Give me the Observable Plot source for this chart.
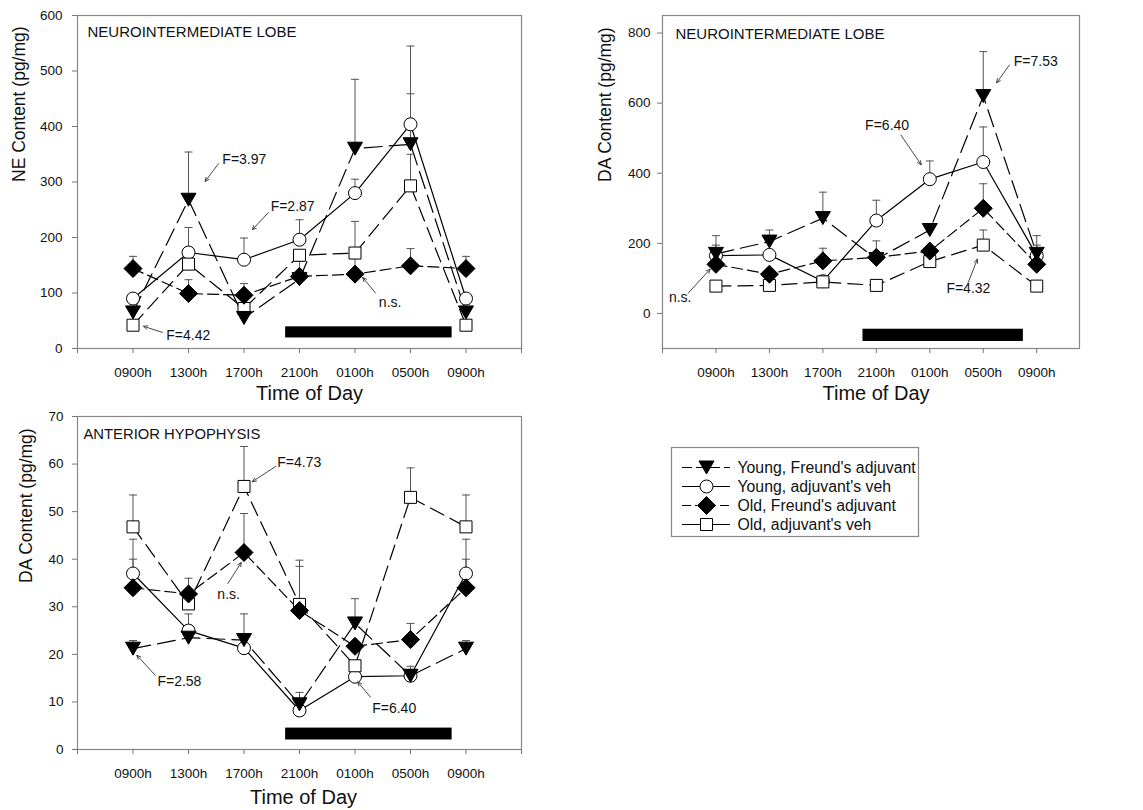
<!DOCTYPE html>
<html><head><meta charset="utf-8">
<script src="https://cdn.jsdelivr.net/npm/d3@7"></script>
<script src="https://cdn.jsdelivr.net/npm/@observablehq/plot@0.6"></script>
<style>
body{margin:0;background:#fff;font-family:"Liberation Sans",Arial,sans-serif;}
#fig{position:relative;width:1143px;height:810px;overflow:hidden;}
</style></head><body><div id="fig"></div>
<script>
// ---------- data ----------
const times = ["0900h","1300h","1700h","2100h","0100h","0500h","0900h"];
const series = ["Young, Freund's adjuvant","Young, adjuvant's veh","Old, Freund's adjuvant","Old, adjuvant's veh"];
const darkPhase = [2.75, 5.75]; // 2000h -> 0800h on the time index axis

// Panel A: NE content, neurointermediate lobe (pg/mg)
const neYoungFreund = [65, 268, 55, 125, 360, 368, 65];
const neYoungFreundSE = [15, 86, null, null, 125, 91, 15];
const neYoungVeh = [90, 173, 160, 196, 280, 404, 90];
const neYoungVehSE = [null, 45, 39, 36, 25, 141, null];
const neOldFreund = [144, 99, 96, 130, 134, 149, 144];
const neOldFreundSE = [22, 25, 21, 27, 28, 31, 22];
const neOldVeh = [42, 152, 72, 168, 172, 293, 42];
const neOldVehSE = [null, null, null, null, 57, 57, null];

// Panel B: DA content, neurointermediate lobe (pg/mg)
const daNilYoungFreund = [170, 205, 272, 155, 238, 620, 170];
const daNilYoungFreundSE = [52, 33, 74, null, 17, 127, 52];
const daNilYoungVeh = [165, 167, 92, 265, 383, 432, 165];
const daNilYoungVehSE = [30, null, null, 58, 52, 100, 30];
const daNilOldFreund = [140, 112, 150, 160, 178, 300, 140];
const daNilOldFreundSE = [null, null, 36, 47, null, 70, null];
const daNilOldVeh = [78, 80, 90, 80, 148, 195, 78];
const daNilOldVehSE = [null, null, null, null, null, 43, null];

// Panel C: DA content, anterior hypophysis (pg/mg)
const daAhYoungFreund = [21.2, 23.5, 23, 9.5, 26.5, 15.5, 21.2];
const daAhYoungFreundSE = [1.7, null, 5.5, 2.5, 5.2, null, 1.7];
const daAhYoungVeh = [37, 25, 21.3, 8.2, 15.3, 15.5, 37];
const daAhYoungVehSE = [7.2, 3.5, null, null, null, 2, 7.2];
const daAhOldFreund = [34, 32.7, 41.4, 29.2, 21.7, 23.1, 34];
const daAhOldFreundSE = [6, 3.3, 8.2, 9.3, null, 3.4, 6];
const daAhOldVeh = [46.8, 30.6, 55.3, 30.5, 17.6, 53, 46.8];
const daAhOldVehSE = [6.7, null, 8.4, 9.3, null, 6.2, 6.7];

// statistical annotations: text, text position, arrow start -> arrow end (data coords)
const notesA = [
  {t:"F=3.97", x:1.61, y:340, x1:1.54, y1:333, x2:1.30, y2:301},
  {t:"F=2.87", x:2.48, y:256, x1:2.44, y1:245, x2:2.15, y2:214},
  {t:"n.s.",   x:4.43, y:83,  x1:4.37, y1:100, x2:4.14, y2:128},
  {t:"F=4.42", x:0.60, y:24,  x1:0.53, y1:29,  x2:0.19, y2:40}
];
const notesB = [
  {t:"n.s.",   x:-0.88, y:45,  x1:-0.52, y1:58,  x2:-0.11, y2:126},
  {t:"F=6.40", x:2.79,  y:535, x1:3.46,  y1:509, x2:3.84,  y2:424},
  {t:"F=7.53", x:5.57,  y:719, x1:5.49,  y1:709, x2:5.25,  y2:658},
  {t:"F=4.32", x:4.31,  y:72,  x1:4.72,  y1:89,  x2:4.89,  y2:155}
];
const notesC = [
  {t:"F=4.73", x:2.60, y:60.3, x1:2.57, y1:59.5, x2:2.15, y2:56.3},
  {t:"n.s.",   x:1.52, y:32.5, x1:1.71, y1:34.9, x2:1.95, y2:39.3},
  {t:"F=2.58", x:0.44, y:14.2, x1:0.40, y1:15.6, x2:0.07, y2:19.8},
  {t:"F=6.40", x:4.31, y:8.6,  x1:4.28, y1:11.0, x2:4.05, y2:14.2}
];

// ---------- styles ----------
const FONT = '"Liberation Sans", Arial, sans-serif';
const triDown = {draw(c){c.moveTo(-7.5,-6.5);c.lineTo(7.5,-6.5);c.lineTo(0,6.5);c.closePath();}};
const diamond = {draw(c){c.moveTo(0,-9);c.lineTo(9,0);c.lineTo(0,9);c.lineTo(-9,0);c.closePath();}};
const square  = {draw(c){c.moveTo(-6,-6);c.lineTo(6,-6);c.lineTo(6,6);c.lineTo(-6,6);c.closePath();}};
const circle  = {draw(c){c.moveTo(6.5,0);c.arc(0,0,6.5,0,2*Math.PI);c.closePath();}};
const cap     = {draw(c){c.moveTo(-4,0);c.lineTo(4,0);}};
const styles = [
  {symbol: triDown, fill: "black", dash: "18,7", legendDash: "10,4"},
  {symbol: circle,  fill: "white", dash: null, legendDash: null},
  {symbol: diamond, fill: "black", dash: "11,5", legendDash: "9,4,2,4"},
  {symbol: square,  fill: "white", dash: "15,7", legendDash: null}
];
const drawOrder = [1, 3, 0, 2];

function rowsOf(vals, ses, k){
  return vals.map((v,i)=>({i, v, se: ses[i], top: ses[i]==null ? null : v + ses[i], k}));
}

function panel(cfg){
  const groups = cfg.data.map(([vals, ses], k) => rowsOf(vals, ses, k));
  const marks = [];
  marks.push(Plot.rect([darkPhase], {x1: d=>d[0], x2: d=>d[1], y1: cfg.bar[0], y2: cfg.bar[1], fill: "black"}));
  groups.forEach((g,k)=>{
    marks.push(Plot.line(g, {x:"i", y:"v", stroke:"black", strokeWidth:1.2, strokeDasharray: styles[k].dash || undefined}));
  });
  groups.forEach(g=>{
    const e = g.filter(d=>d.se!=null);
    marks.push(Plot.ruleX(e, {x:"i", y1:"v", y2:"top", stroke:"#555", strokeWidth:1}));
    marks.push(Plot.dot(e, {x:"i", y:"top", symbol: cap, r: 4, stroke:"#555", fill:"none", strokeWidth:1}));
  });
  drawOrder.forEach(k=>{
    marks.push(Plot.dot(groups[k], {x:"i", y:"v", symbol: styles[k].symbol, r: 6, fill: styles[k].fill, stroke:"black", strokeWidth:1}));
  });
  marks.push(Plot.frame({stroke:"#888", strokeWidth:1.2}));
  marks.push(Plot.axisX({ticks: cfg.xTicks, tickFormat: i => times[i] ?? "", tickSize: 5, tickPadding: 14,
    fontSize: 13.5, stroke: "#777", fill: "#111", label: null}));
  marks.push(Plot.axisY({ticks: cfg.yTicks, tickSize: 5, tickPadding: cfg.yPad, fontSize: 13.5, stroke:"#777", fill:"#111", label: null}));
  marks.push(Plot.text([cfg.label], {text: d=>d, frameAnchor:"top-left", dx: cfg.labelDx, dy: cfg.labelDy, textAnchor:"start", lineAnchor:"middle", fontSize: cfg.labelSize, fill:"#111"}));
  marks.push(Plot.text(["Time of Day"], {text: d=>d, frameAnchor:"bottom", dx: cfg.xTitleDx, dy: cfg.xTitleDy, lineAnchor:"middle", fontSize: 20, fill:"#111"}));
  marks.push(Plot.text([cfg.yTitle], {text: d=>d, frameAnchor:"left", dx: cfg.yTitleDx, rotate: -90, lineAnchor:"middle", fontSize: 17.5, fill:"#111"}));
  marks.push(Plot.arrow(cfg.notes, {x1:"x1", y1:"y1", x2:"x2", y2:"y2", stroke:"#333", strokeWidth:0.9, headLength:7, headAngle:50}));
  marks.push(Plot.text(cfg.notes, {x:"x", y:"y", text:"t", textAnchor:"start", lineAnchor:"middle", fontSize:14, fill:"#111"}));
  const svg = Plot.plot({
    width: cfg.width, height: cfg.height,
    marginTop: cfg.m[0], marginRight: cfg.m[1], marginBottom: cfg.m[2], marginLeft: cfg.m[3],
    x: {type:"linear", domain: cfg.xDomain},
    y: {type:"linear", domain: cfg.yDomain},
    style: {position:"absolute", left: cfg.left+"px", top: cfg.top+"px", background:"transparent", overflow:"visible", fontFamily: FONT, maxWidth:"none"},
    marks
  });
  document.getElementById("fig").appendChild(svg);
}

panel({left:0, top:0, width:560, height:410, m:[15,39,62,77], xDomain:[-1,7], xTicks:d3.range(-1,8), yDomain:[0,600], yTicks:d3.range(0,601,100), yPad:10,
  label:"NEUROINTERMEDIATE LOBE", labelSize:15, labelDx:10, labelDy:17, yTitle:"NE Content (pg/mg)", yTitleDx:-58, xTitleDx:10, xTitleDy:45,
  bar:[19,39], notes: notesA,
  data:[[neYoungFreund, neYoungFreundSE],[neYoungVeh, neYoungVehSE],[neOldFreund, neOldFreundSE],[neOldVeh, neOldVehSE]]});

panel({left:560, top:0, width:583, height:410, m:[15,64,62,102], xDomain:[-1,6.8], xTicks:d3.range(-1,7), yDomain:[-100,850], yTicks:d3.range(0,801,200), yPad:7,
  label:"NEUROINTERMEDIATE LOBE", labelSize:15, labelDx:13, labelDy:19, yTitle:"DA Content (pg/mg)", yTitleDx:-57, xTitleDx:5, xTitleDy:45,
  bar:[-80,-45], notes: notesB,
  data:[[daNilYoungFreund, daNilYoungFreundSE],[daNilYoungVeh, daNilYoungVehSE],[daNilOldFreund, daNilOldFreundSE],[daNilOldVeh, daNilOldVehSE]]});

panel({left:0, top:400, width:560, height:410, m:[16,39,61,77], xDomain:[-1,7], xTicks:d3.range(-1,8), yDomain:[0,70], yTicks:d3.range(0,71,10), yPad:9,
  label:"ANTERIOR HYPOPHYSIS", labelSize:14.8, labelDx:6, labelDy:18, yTitle:"DA Content (pg/mg)", yTitleDx:-51, xTitleDx:4, xTitleDy:48,
  bar:[2,4.5], notes: notesC,
  data:[[daAhYoungFreund, daAhYoungFreundSE],[daAhYoungVeh, daAhYoungVehSE],[daAhOldFreund, daAhOldFreundSE],[daAhOldVeh, daAhOldVehSE]]});

// ---------- legend ----------
const legendRows = series.map((name, k) => ({name, k}));
const legendMarks = [];
legendRows.forEach(r=>{
  legendMarks.push(Plot.ruleY([r], {y:"name", x1: 12, x2: 60, stroke:"black", strokeWidth:1.2, strokeDasharray: styles[r.k].legendDash || undefined}));
});
[1,3,0,2].forEach(k=>{
  legendMarks.push(Plot.dot([legendRows[k]], {x: 36, y:"name", symbol: styles[k].symbol, r:6, fill: styles[k].fill, stroke:"black", strokeWidth:1}));
});
legendMarks.push(Plot.text(legendRows, {x: 67, y:"name", text:"name", textAnchor:"start", lineAnchor:"middle", fontSize:15.8, fill:"#111"}));
legendMarks.push(Plot.frame({stroke:"#888", strokeWidth:1.2}));
const legend = Plot.plot({
  width: 249, height: 91, margin: 1,
  x: {type:"linear", domain:[1, 248], range:[1, 248], axis: null},
  y: {type:"point", domain: series, range:[20, 78], padding: 0, axis: null},
  style: {position:"absolute", left:"670px", top:"446px", background:"transparent", overflow:"visible", fontFamily: FONT, maxWidth:"none"},
  marks: legendMarks
});
document.getElementById("fig").appendChild(legend);
</script></body></html>
